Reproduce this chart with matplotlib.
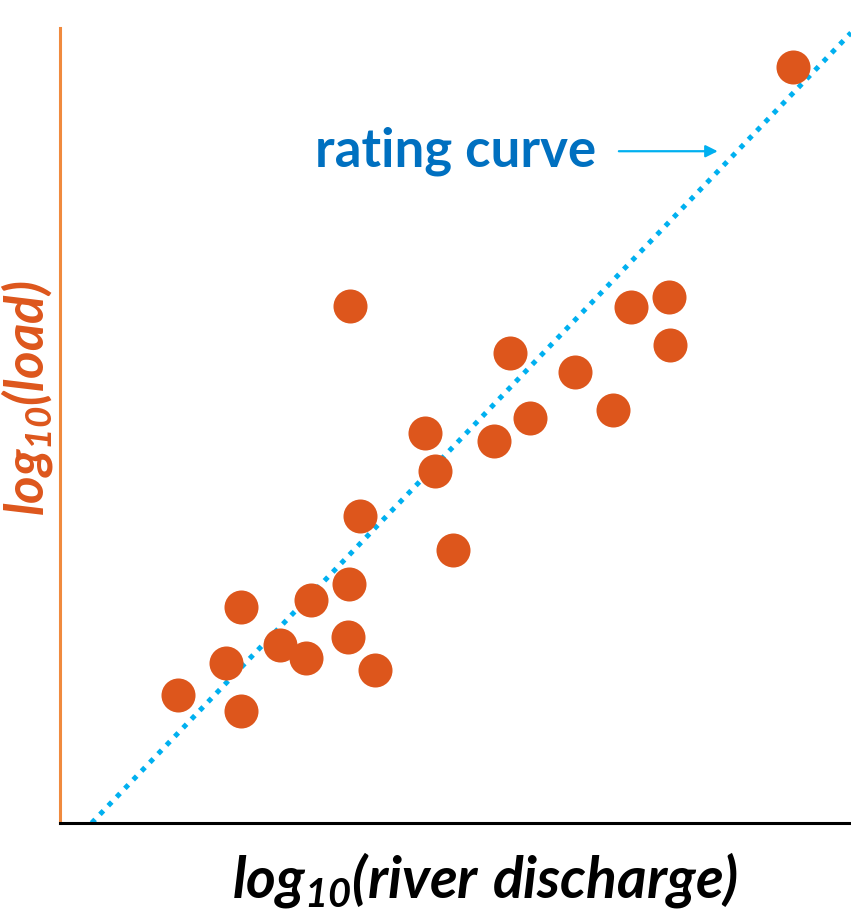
import matplotlib
matplotlib.use("Agg")
import matplotlib.pyplot as plt

# log10(discharge) vs log10(load) samples
log_q = [9.27, 3.67, 7.22, 7.70, 7.71, 5.69, 6.51, 6.99, 5.94, 4.61, 5.49, 4.74,
         3.79, 4.97, 3.65, 2.29, 3.17, 3.64, 2.78, 3.11, 2.10, 3.98, 1.49, 2.29]
log_load = [9.51, 6.50, 6.49, 6.62, 6.01, 5.91, 5.67, 5.19, 5.09, 4.91, 4.81, 4.43,
            3.86, 3.43, 3.01, 2.72, 2.81, 2.34, 2.24, 2.08, 2.01, 1.92, 1.61, 1.41]

# rating curve end points
rating_q = [0.40, 10.0]
rating_load = [0.0, 9.94]

plt.rcParams['mathtext.fontset'] = 'custom'
plt.rcParams['mathtext.rm'] = 'Lato:italic:bold'
plt.rcParams['mathtext.it'] = 'Lato:italic:bold'
plt.rcParams['mathtext.bf'] = 'Lato:italic:bold'

fig = plt.figure(figsize=(8.51, 9.15), dpi=100)
ax = fig.add_axes([60/851, 92/915, 791/851, 795/915])

ax.plot(rating_q, rating_load, color='#00B0F0', lw=3.6, ls=(0, (1, 1.4)),
        dash_capstyle='butt', zorder=2)
ax.plot(log_q, log_load, 'o', ms=24.5, color='#DD561C', mec='none', zorder=3)

ax.set_xlim(0, 10)
ax.set_ylim(0, 10)
ax.set_xticks([])
ax.set_yticks([])
ax.spines['top'].set_visible(False)
ax.spines['right'].set_visible(False)
ax.spines['left'].set_color('#F08A3E')
ax.spines['left'].set_linewidth(2.2)
ax.spines['bottom'].set_color('black')
ax.spines['bottom'].set_linewidth(2.2)

ax.text(3.22, 8.45, 'rating curve', fontfamily='Lato', fontweight='bold',
        fontsize=38, color='#0070C0', va='center', ha='left')
ax.annotate('', xy=(8.35, 8.45), xytext=(7.03, 8.45),
            arrowprops=dict(arrowstyle='-|>', color='#00B0F0', lw=1.6,
                            mutation_scale=18))

fig.text(485/851, 1 - 880/915, r'$log_{10}(river\ discharge)$', fontsize=41,
         color='black', ha='center', va='center')
fig.text(27/851, 1 - 398/915, r'$log_{10}(load)$', fontsize=38,
         color='#DD561C', ha='center', va='center', rotation=90)

fig.savefig('out.png', dpi=100)
